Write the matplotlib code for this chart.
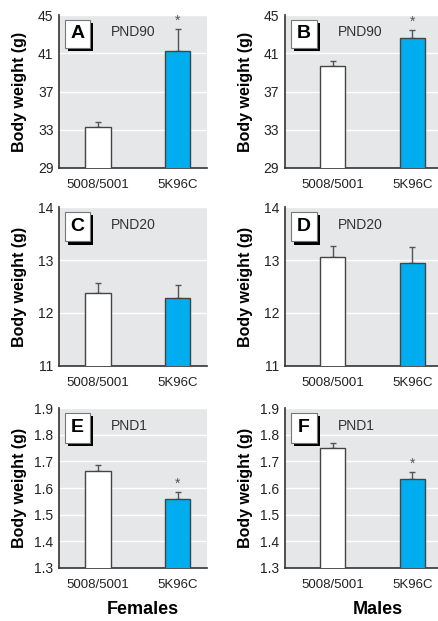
import numpy as np
import matplotlib.pyplot as plt
from matplotlib.patches import Rectangle

# datos
grupos = ['5008/5001', '5K96C']

pesoA = [33.3, 41.2]
errA = [0.5, 2.3]
pesoB = [39.7, 42.6]
errB = [0.45, 0.85]
pesoC = [12.38, 12.28]
errC = [0.18, 0.25]
pesoD = [13.05, 12.94]
errD = [0.21, 0.30]
pesoE = [1.665, 1.558]
errE = [0.022, 0.027]
pesoF = [1.752, 1.633]
errF = [0.019, 0.027]

sigA = [False, True]
sigB = [False, True]
sigC = [False, False]
sigD = [False, False]
sigE = [False, True]
sigF = [False, True]

ticks90 = [29, 33, 37, 41, 45]
ticks20 = [11, 12, 13, 14]
ticks1 = [1.3, 1.4, 1.5, 1.6, 1.7, 1.8, 1.9]

plt.rcParams['font.family'] = ['Liberation Sans', 'DejaVu Sans']

colores = ['white', '#00AEEF']
fondo = '#E6E7E9'
gris = '#444444'

fig = plt.figure(figsize=(4.38, 6.21), dpi=100)

filas = [(0.7295, 0.2463), (0.4111, 0.2551), (0.0858, 0.2567)]
cols = [(0.1347, 0.3379, (-0.49, 1.37)), (0.650, 0.350, (-0.60, 1.32))]

paneles = [
    ('A', 'PND90', pesoA, errA, sigA, ticks90, '{:.0f}'),
    ('B', 'PND90', pesoB, errB, sigB, ticks90, '{:.0f}'),
    ('C', 'PND20', pesoC, errC, sigC, ticks20, '{:.0f}'),
    ('D', 'PND20', pesoD, errD, sigD, ticks20, '{:.0f}'),
    ('E', 'PND1', pesoE, errE, sigE, ticks1, '{:.1f}'),
    ('F', 'PND1', pesoF, errF, sigF, ticks1, '{:.1f}'),
]

for i, (letra, edad, peso, err, sig, ticks, fmt) in enumerate(paneles):
    fila = filas[i // 2]
    col = cols[i % 2]
    ax = fig.add_axes([col[0], fila[0], col[1], fila[1]])
    ax.set_facecolor(fondo)
    x = np.arange(len(grupos))
    ax.bar(x, peso, width=0.32, color=colores, edgecolor=gris, linewidth=1, zorder=3)
    ax.errorbar(x, peso, yerr=[np.zeros(len(err)), err], fmt='none', ecolor='#555555',
                elinewidth=1, capsize=2.5, capthick=1, zorder=2)
    for xi, p, e, s in zip(x, peso, err, sig):
        if s:
            ax.annotate('*', (xi, p + e), xytext=(0, 1), textcoords='offset points',
                        ha='center', va='bottom', fontsize=10, color='#555555')
    ax.set_xlim(col[2])
    ax.set_ylim(ticks[0], ticks[-1])
    ax.set_yticks(ticks)
    ax.set_yticklabels([fmt.format(t) for t in ticks])
    ax.set_xticks(x)
    ax.set_xticklabels(grupos)
    ax.grid(axis='y', color='white', linewidth=1, zorder=1)
    ax.set_axisbelow(True)
    ax.tick_params(length=0, colors='#222222')
    ax.tick_params(axis='x', pad=8, labelsize=9.5)
    ax.tick_params(axis='y', pad=4, labelsize=10)
    for lado in ['top', 'right']:
        ax.spines[lado].set_visible(False)
    for lado in ['left', 'bottom']:
        ax.spines[lado].set_color('#333333')
        ax.spines[lado].set_linewidth(1.2)
    ax.set_ylabel('Body weight (g)', fontsize=11.5, fontweight='bold')
    ax.yaxis.set_label_coords(-0.215 if i % 2 == 0 else -0.21, 0.5)

    # recuadro con la letra y su sombra
    ax.add_patch(Rectangle((0.06, 0.765), 0.17, 0.185, transform=ax.transAxes,
                           facecolor='black', edgecolor='none', zorder=5, clip_on=False))
    ax.add_patch(Rectangle((0.04, 0.785), 0.17, 0.185, transform=ax.transAxes,
                           facecolor='white', edgecolor='#777777', linewidth=0.8,
                           zorder=6, clip_on=False))
    ax.text(0.125, 0.877, letra, transform=ax.transAxes, ha='center', va='center',
            fontsize=14, fontweight='bold', zorder=7)
    ax.text(0.35, 0.89, edad, transform=ax.transAxes, ha='left', va='center',
            fontsize=10, color='#333333')

fig.text(0.327, 0.018, 'Females', ha='center', va='center', fontsize=13, fontweight='bold')
fig.text(0.863, 0.018, 'Males', ha='center', va='center', fontsize=13, fontweight='bold')

fig.savefig('out.png', dpi=100)
